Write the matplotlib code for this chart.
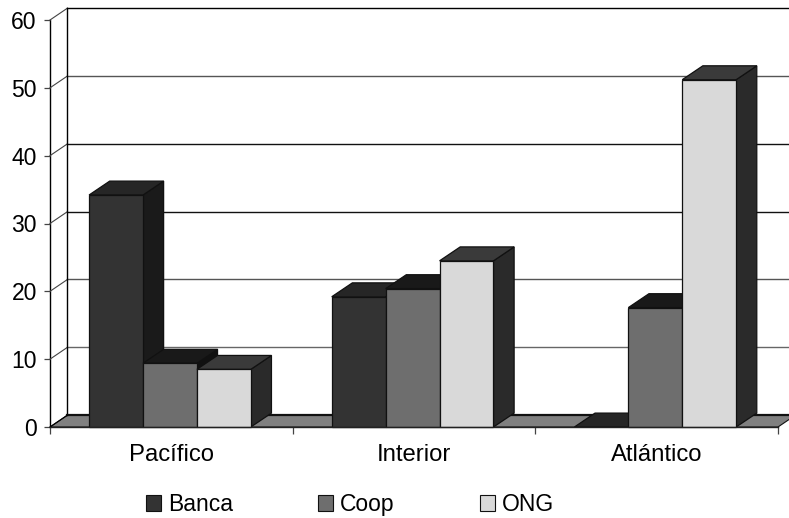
import matplotlib
matplotlib.use("Agg")
import matplotlib.pyplot as plt
from matplotlib.patches import Polygon, Patch

plt.rcParams['font.family'] = ['Liberation Sans', 'DejaVu Sans']

categories = ["Pacífico", "Interior", "Atlántico"]
series_names = ["Banca", "Coop", "ONG"]
banca = [34.2, 19.2, 0]
coop = [9.4, 20.4, 17.6]
ong = [8.5, 24.5, 51.2]
y_ticks = [0, 10, 20, 30, 40, 50, 60]

series = [banca, coop, ong]
front = ["#333333", "#6e6e6e", "#d9d9d9"]
top = ["#262626", "#191919", "#3a3a3a"]
side = ["#1a1a1a", "#111111", "#2a2a2a"]

W, H = 789, 518
fig = plt.figure(figsize=(W / 100, H / 100), dpi=100, facecolor="white")
ax = fig.add_axes([50 / W, (H - 427) / H, 728 / W, 407 / H])
ax.set_xlim(0, 3)
ax.set_ylim(0, 60)
ax.patch.set_visible(False)

wall_dx, wall_dy = 0.072, 1.75
bar_dx, bar_dy = 0.085, 2.05
bar_w = 0.2222
gap = 0.161
edge = "#111111"

def poly(points, fc, z, lw=0.9, ec=edge):
    ax.add_patch(Polygon(points, closed=True, facecolor=fc, edgecolor=ec,
                         linewidth=lw, clip_on=False, zorder=z))

# floor
poly([(0, 0), (3, 0), (3 + wall_dx, wall_dy), (wall_dx, wall_dy)], "#808080", 1, lw=0.8)
ax.plot([wall_dx, 3 + wall_dx], [wall_dy, wall_dy], color="#111111", lw=1.6,
        clip_on=False, zorder=1.5)

# walls and gridlines
grid_col = {60: "#000000", 50: "#555555", 40: "#111111", 30: "#111111", 20: "#555555", 10: "#666666"}
for v in y_ticks[1:]:
    ax.plot([wall_dx, 3 + wall_dx], [v + wall_dy, v + wall_dy], color=grid_col[v], lw=1.0,
            clip_on=False, zorder=1)
    ax.plot([0, wall_dx], [v, v + wall_dy], color="#444444", lw=0.8, clip_on=False, zorder=1)
ax.plot([wall_dx, wall_dx], [wall_dy, 60 + wall_dy], color="black", lw=1.0, clip_on=False, zorder=1)
ax.plot([0, wall_dx], [0, wall_dy], color="black", lw=0.8, clip_on=False, zorder=1.6)

# bars
z = 2
for c in range(len(categories)):
    for s, vals in enumerate(series):
        v = vals[c]
        x0 = c + gap + s * bar_w
        x1 = x0 + bar_w
        poly([(x1, 0), (x1 + bar_dx, bar_dy), (x1 + bar_dx, v + bar_dy), (x1, v)], side[s], z)
        poly([(x0, v), (x1, v), (x1 + bar_dx, v + bar_dy), (x0 + bar_dx, v + bar_dy)], top[s], z + 0.1)
        if v > 0:
            ax.bar(x0, v, width=bar_w, align="edge", color=front[s], edgecolor=edge,
                   linewidth=0.9, zorder=z + 0.2, clip_on=False)
        z += 1

# axes
for name in ("top", "right"):
    ax.spines[name].set_visible(False)
ax.spines["left"].set_linewidth(1.0)
ax.spines["left"].set_zorder(0.5)
ax.spines["bottom"].set_linewidth(1.0)
ax.spines["bottom"].set_color("#222222")
ax.spines["bottom"].set_zorder(40)
ax.set_yticks(y_ticks)
ax.tick_params(axis="y", length=4.5, width=0.9, color="#444444", pad=5, labelsize=16.5)
ax.set_xticks([0, 1, 2, 3])
ax.set_xticklabels([])
ax.set_xticks([0.5, 1.5, 2.5], labels=categories, minor=True)
ax.tick_params(axis="x", which="major", length=5, width=0.9, color="#444444")
ax.tick_params(axis="x", which="minor", length=0, pad=12, labelsize=17.2)

handles = [Patch(facecolor=front[i], edgecolor=edge, linewidth=0.8, label=series_names[i]) for i in range(3)]
fig.legend(handles=handles, ncols=3, loc="center left", frameon=False, fontsize=16.5,
           bbox_to_anchor=(146 / W, (H - 504.5) / H), borderpad=0, borderaxespad=0,
           handlelength=0.65, handleheight=0.65, handletextpad=0.3, columnspacing=3.72)

fig.savefig("out.png", dpi=100, facecolor="white")
